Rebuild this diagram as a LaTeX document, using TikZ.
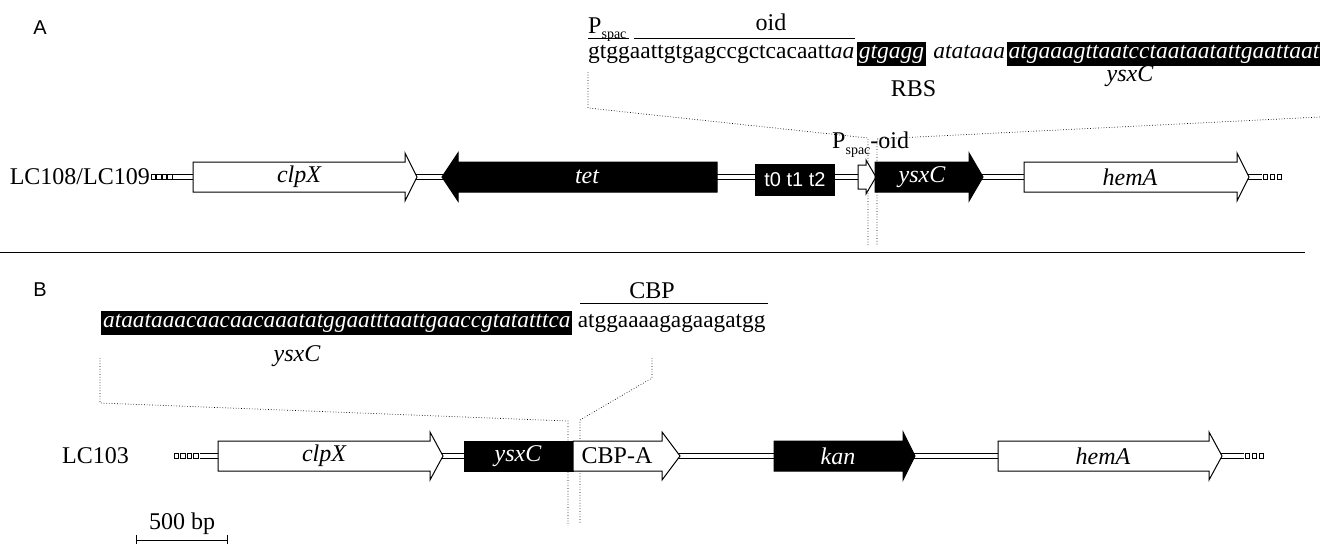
\documentclass[tikz,border=0pt]{standalone}
\usepackage{fontspec}
\setmainfont{Liberation Serif}
\newfontfamily\sansfam{Liberation Sans}
\usetikzlibrary{calc}
\newcommand\genebox[7]{% x1, xbase, xtip, yc, bodyhalf, headhalf, style
  \draw[#7] (#1,#4-#5) -- (#2,#4-#5) -- (#2,#4-#6) -- (#3,#4) -- (#2,#4+#6) -- (#2,#4+#5) -- (#1,#4+#5) -- cycle;}
\newcommand\sqrow[4]{% xstart, n, pitch, yc
  \foreach \i in {1,...,#2} {\draw[sq] (#1+\i*#3-#3,#4-2.2) rectangle ++(4.4,4.4);}}
\begin{document}
\begin{tikzpicture}[x=1pt,y=-1pt]
\tikzset{
  txt/.style={font=\fontsize{24}{28}\selectfont, inner sep=0pt},
  seqA/.style={font=\fontsize{23.5}{28}\selectfont, inner sep=0pt},
  seqBt/.style={font=\fontsize{23.3}{28}\selectfont, inner sep=0pt},
  bb/.style={double=white, double distance=4pt, line width=0.8pt},
  gn/.style={line width=1pt, draw=black, fill=white},
  gb/.style={line width=1pt, draw=black, fill=black},
  dl/.style={dotted, line width=0.7pt},
  sq/.style={line width=0.7pt, draw=black, fill=white},
  glab/.style={txt, font=\fontsize{24}{28}\selectfont\itshape},
  wlab/.style={glab, text=white},
  seqbox/.style={fill=black, text=white, inner xsep=2pt, inner ysep=3pt},
  panel/.style={font=\sansfam\fontsize{20}{24}\selectfont, inner sep=0pt},
  plain/.style={line width=0.8pt}
}
\clip (0,0) rectangle (1320,544);
\fill[white] (0,0) rectangle (1320,544);

% ---------------- Panel A ----------------
\node[panel] (labA) at (40,28) {A};

\node[txt, anchor=base west] (pspac) at (588,33) {P\raisebox{-5pt}{\fontsize{14}{16}\selectfont spac}};
\draw[plain] (588,38) -- (629,38);
\node[txt, anchor=base] (oid) at (771,30) {oid};
\draw[plain] (634,38) -- (855,38);

\node[seqA, anchor=base west] (seq1) at (588,58) {gtggaattgtgagccgctcacaatt\textit{aa}};
\node[seqA, seqbox, anchor=base west, font=\fontsize{23.5}{28}\selectfont\itshape] (rbsbox) at ([xshift=2pt]seq1.base east) {gtgagg};
\node[seqA, anchor=base west] (seq3) at ([xshift=1pt]rbsbox.base east) {\textit{\ atataaa}};
\node[seqA, seqbox, anchor=base west, font=\fontsize{23.5}{28}\selectfont\itshape] (ysxbox) at ([xshift=1pt]seq3.base east) {\makebox[340pt][l]{atgaaagttaatcctaataatattgaattaat}};
\node[txt] (rbs) at ($(rbsbox.center)+(22,35)$) {RBS};
\node[glab] (ysxlabA) at (1130,76) {ysxC};

\draw[dl] (588,72) -- (588,108) -- (868,138) -- (868,245);
\draw[dl] (1320,117) -- (877,139) -- (877,245);

% gene row A
\node[txt, anchor=east] (lcA) at (150,177) {LC108/LC109};
\draw[bb] (173,177) -- (1262,177);
\sqrow{151}{4}{5.6}{177}
\sqrow{1263}{3}{7}{177}
\genebox{193}{405}{417}{177}{15}{24}{gn}
\node[glab] (clpxA) at (299,177) {clpX};
\genebox{717}{458}{442}{177}{15}{24}{gb}
\node[wlab] (tet) at (587,177) {tet};
\node[fill=black, text=white, font=\sansfam\fontsize{20}{24}\selectfont, minimum width=80pt, minimum height=32pt, inner sep=0pt] (t012) at (795,180) {t0 t1 t2};
\genebox{858}{866}{876}{177}{12}{17}{gn}
\genebox{875}{969}{983}{177}{15}{24}{gb}
\node[wlab] (ysxA) at (922,177) {ysxC};
\genebox{1024}{1237}{1249}{177}{15}{24}{gn}
\node[glab] (hemAA) at (1130,177) {hemA};
\node[txt, anchor=base west] (psoid) at (832,148) {P\raisebox{-6pt}{\fontsize{14}{16}\selectfont spac}-oid};

% separator
\draw[plain] (0,252) -- (1305,252);

% ---------------- Panel B ----------------
\node[panel] (labB) at (40,290) {B};

\node[seqBt, seqbox, anchor=base west, font=\fontsize{23.3}{28}\selectfont\itshape] (seqB) at (101,327) {ataataaacaacaacaaatatggaatttaattgaaccgtatatttca};
\node[seqBt, anchor=base west] (cbpseq) at ([xshift=5pt]seqB.base east) {atggaaaagagaagatgg};
\draw[plain] (580,303) -- (768,303);
\node[txt, anchor=base] (cbp) at (652,298) {CBP};
\node[glab] (ysxlabB) at (297,356) {ysxC};

\draw[dl] (100,358) -- (100,403) -- (568,421) -- (568,524);
\draw[dl] (652,358) -- (652,378) -- (580,420) -- (580,524);

% gene row B
\node[txt, anchor=west] (lcB) at (62,456) {LC103};
\draw[bb] (200,456) -- (1244,456);
\sqrow{174}{4}{6.5}{456}
\sqrow{1245}{3}{7}{456}
\genebox{218}{430}{443}{456}{15}{24}{gn}
\node[glab] (clpxB) at (324,456) {clpX};
\draw[gb] (464,441) rectangle (573,471);
\node[wlab] (ysxB) at (518,456) {ysxC};
\genebox{573}{662}{680}{456}{15}{24}{gn}
\node[txt] (cbpa) at (617,456) {CBP-A};
\genebox{774}{903}{915}{456}{15}{24}{gb}
\node[wlab] (kan) at (838,456) {kan};
\genebox{998}{1209}{1222}{456}{15}{24}{gn}
\node[glab] (hemAB) at (1103,456) {hemA};

% scale bar
\node[txt] (bp) at (182,524) {500 bp};
\draw[plain] (136,540) -- (227,540);
\draw[plain] (136,535) -- (136,544);
\draw[plain] (227,535) -- (227,544);
\end{tikzpicture}
\end{document}
